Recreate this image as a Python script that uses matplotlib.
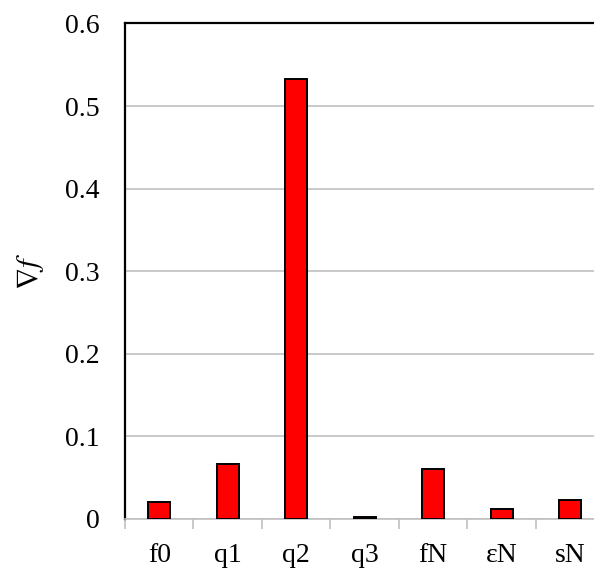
import numpy as np
import matplotlib
matplotlib.use("Agg")
import matplotlib.pyplot as plt

# values
labels = ["f0", "q1", "q2", "q3", "fN", "εN", "sN"]
grad_f = [0.020, 0.066, 0.533, 0.003, 0.060, 0.012, 0.023]
yticks = [0.0, 0.1, 0.2, 0.3, 0.4, 0.5, 0.6]
ytick_labels = ["0", "0.1", "0.2", "0.3", "0.4", "0.5", "0.6"]

plt.rcParams["font.family"] = ["Liberation Serif", "DejaVu Serif"]
plt.rcParams["mathtext.fontset"] = "stix"

fig = plt.figure(figsize=(5.94, 5.70), dpi=100)
ax = fig.add_axes([0.2104, 0.0895, 0.807, 0.8693])

x = np.arange(len(labels))
ax.bar(x, grad_f, width=0.32, color="#ff0000", edgecolor="black", linewidth=1.4, zorder=3)

ax.set_xlim(-0.5, len(labels) - 0.5)
ax.set_ylim(0, 0.6)
ax.set_yticks(yticks)
ax.set_yticklabels(ytick_labels)
ax.yaxis.grid(True, color="#c0c0c0", linewidth=1.2)
ax.set_axisbelow(True)

# category labels on major ticks, gray tick marks between categories
ax.set_xticks(x)
ax.set_xticklabels(labels)
ax.set_xticks(np.arange(len(labels) + 1) - 0.5, minor=True)
ax.tick_params(axis="x", which="major", length=0, pad=17, labelsize=20)
ax.tick_params(axis="x", which="minor", length=7, width=1.2, color="#c0c0c0", direction="out")
ax.tick_params(axis="y", length=0, pad=18, labelsize=20)

ax.spines["right"].set_visible(False)
ax.spines["top"].set_color("black")
ax.spines["top"].set_linewidth(1.6)
ax.spines["left"].set_color("black")
ax.spines["left"].set_linewidth(1.6)
ax.spines["bottom"].set_color("#c0c0c0")
ax.spines["bottom"].set_linewidth(1.2)

ax.set_ylabel(r"$\nabla f$", fontsize=22, labelpad=14)

fig.savefig("out.png", dpi=100)
